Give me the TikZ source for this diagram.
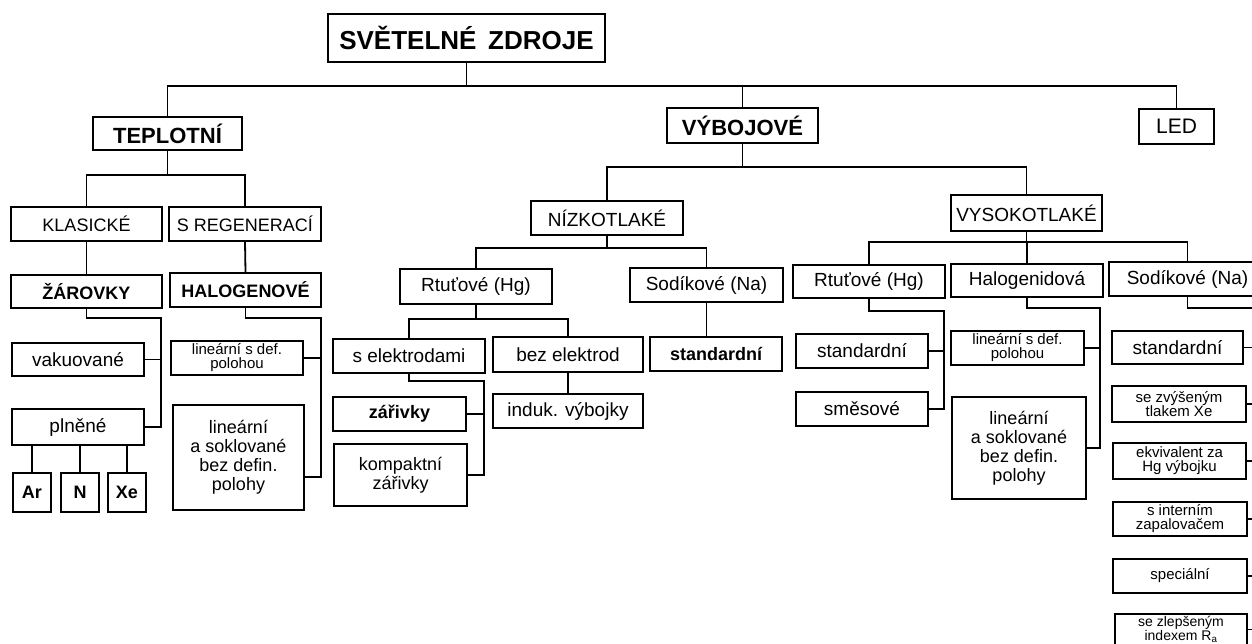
\documentclass[tikz,border=0pt]{standalone}
\usepackage{fontspec}
\setmainfont{Liberation Sans}
\usetikzlibrary{calc}
\newcommand\fsz[2]{\fontsize{#1}{#2}\selectfont}
% [opts]{name}{x1}{y1}{x2}{y2}{text}
\newcommand\bx[7][]{%
  \node[box,minimum width={(#5-#3)*1pt},minimum height={(#6-#4)*1pt},#1]
    (#2) at ({(#3+#5)/2},{(#4+#6)/2}) {#7};}
\begin{document}
\begin{tikzpicture}[x=1pt,y=-1pt,
  box/.style={draw,line width=1.8pt,inner sep=0pt,align=center,font=\fsz{19}{20}},
  conn/.style={line width=1.8pt},
  capstxt/.style={font=\fsz{18}{20}},
  bcapstxt/.style={font=\bfseries\fsz{18}{20}},
  headtxt/.style={font=\bfseries\fsz{22}{24}},
  smalltxt/.style={font=\fsz{15}{14}},
  multitxt/.style={font=\fsz{18}{19}}]
\useasboundingbox (0,0) rectangle (1252,644);
\clip (0,0) rectangle (1252,644);
\fill[white] (0,0) rectangle (1252,644);

% ---- level 0/1
\bx[font=\bfseries\fsz{26}{28},line width=2.6pt]{sz}{328}{14}{605}{62}{SVĚTELNÉ\hspace{0.45em}ZDROJE}
\bx[headtxt]{tep}{93}{117}{242}{150}{TEPLOTNÍ}
\bx[headtxt]{vyb}{667}{108}{818}{143}{VÝBOJOVÉ}
\bx[font=\fsz{21}{22}]{led}{1139}{109}{1214}{144}{LED}

% ---- teplotní branch
\bx[capstxt]{kl}{11}{207}{162}{241}{KLASICKÉ}
\bx[capstxt]{sreg}{169}{207}{321}{241}{S REGENERACÍ}
\bx[bcapstxt]{zarov}{11}{275}{162}{308}{ŽÁROVKY}
\bx[bcapstxt]{halo}{170}{273}{321}{307}{HALOGENOVÉ}
\bx{vak}{12}{343}{144}{376}{vakuované}
\bx{pln}{12}{409}{144}{445}{plněné}
\bx[bcapstxt]{ar}{13}{473}{51}{512}{Ar}
\bx[bcapstxt]{nn}{61}{473}{99}{512}{N}
\bx[bcapstxt]{xe}{108}{473}{146}{512}{Xe}
\bx[smalltxt]{lin1}{171}{341}{303}{375}{lineární s def.\\polohou}
\bx[multitxt]{lin2}{173}{405}{304}{510}{lineární\\a soklované\\bez defin.\\polohy}

% ---- výbojové branch
\bx{nizk}{531}{201}{683}{235}{NÍZKOTLAKÉ}
\bx{vys}{951}{195}{1102}{231}{VYSOKOTLAKÉ}
\bx{rn}{400}{269}{552}{304}{Rtuťové (Hg)}
\bx{sn}{630}{268}{783}{302}{Sodíkové (Na)}
\bx{sel}{333}{339}{485}{373}{s elektrodami}
\bx{bel}{493}{337}{643}{372}{bez elektrod}
\bx[font=\bfseries\fsz{18}{20}]{stn}{650}{337}{782}{371}{standardní}
\bx{ind}{493}{394}{643}{428}{induk. výbojky}
\bx[font=\bfseries\fsz{18}{20}]{zar}{333}{397}{466}{431}{zářivky}
\bx[multitxt]{kom}{334}{444}{467}{506}{kompaktní\\zářivky}
\bx{rv}{793}{265}{945}{298}{Rtuťové (Hg)}
\bx{hg}{951}{264}{1103}{297}{Halogenidová}
\bx{sv}{1109}{262}{1266}{296}{Sodíkové (Na)}
\bx{stv}{796}{334}{928}{368}{standardní}
\bx{smes}{796}{392}{928}{426}{směsové}
\bx[smalltxt]{lin3}{951}{331}{1084}{365}{lineární s def.\\polohou}
\bx[multitxt]{lin4}{952}{397}{1086}{499}{lineární\\a soklované\\bez defin.\\polohy}
\bx{s1}{1112}{331}{1243}{364}{standardní}
\bx[smalltxt]{s2}{1112}{386}{1246}{422}{se zvýšeným\\tlakem Xe}
\bx[smalltxt]{s3}{1113}{443}{1246}{479}{ekvivalent za\\Hg výbojku}
\bx[smalltxt]{s4}{1113}{502}{1247}{536}{s interním\\zapalovačem}
\bx[smalltxt]{s5}{1113}{559}{1247}{593}{speciální}
\bx[font=\fsz{14}{12.5}]{s6}{1115}{614}{1247}{645}{se zlepšeným\\indexem R\textsubscript{a}}

% ---- bus levels and junctions
\coordinate (L1) at (0,86);
\coordinate (L2) at (0,175);
\coordinate (L4) at (0,167);
\coordinate (L5) at (0,248);
\coordinate (L6) at (0,319);
\coordinate (L7) at (0,242);
\coordinate (zb) at (161,318);
\coordinate (hb) at (321,318);
\coordinate (sb) at (484,381);
\coordinate (rb) at (944,311);
\coordinate (hgb) at (1100,308);
\coordinate (sb2) at (1260,308);
\coordinate (lin2c) at ($(lin2.south east)+(0,-34)$);

% ---- connectors
\draw[conn] (sz.south) -- (sz.south |- L1);
\draw[conn] (tep.north) -- (tep.north |- L1) -- (led.north |- L1) -- (led.north);
\draw[conn] (vyb.north) -- (vyb.north |- L1);

\draw[conn] (tep.south) -- (tep.south |- L2);
\draw[conn] (kl.north) -- (kl.north |- L2) -- (sreg.north |- L2) -- (sreg.north);
\draw[conn] (kl.south) -- (zarov.north);
\draw[conn] (sreg.south) -- (halo.north);
\draw[conn] (zarov.south) |- (zb) |- (pln.east);
\draw[conn] (vak.east) -- (vak.east -| zb);
\draw[conn] (ar.north) -- (ar.north |- pln.south);
\draw[conn] (nn.north) -- (nn.north |- pln.south);
\draw[conn] (xe.north) -- (xe.north |- pln.south);
\draw[conn] (halo.south) |- (hb) |- (lin2c);
\draw[conn] (lin1.east) -- (lin1.east -| hb);

\draw[conn] (vyb.south) -- (vyb.south |- L4);
\draw[conn] (nizk.north) -- (nizk.north |- L4) -- (vys.north |- L4) -- (vys.north);

\draw[conn] (nizk.south) -- (nizk.south |- L5);
\draw[conn] (rn.north) -- (rn.north |- L5) -- (sn.north |- L5) -- (sn.north);
\draw[conn] (sn.south) -- (sn.south |- stn.north);
\draw[conn] (rn.south) -- (rn.south |- L6);
\draw[conn] (sel.north) -- (sel.north |- L6) -- (bel.north |- L6) -- (bel.north);
\draw[conn] (bel.south) -- (bel.south |- ind.north);
\draw[conn] (sel.south) |- (sb) |- (kom.east);
\draw[conn] (zar.east) -- (zar.east -| sb);

\draw[conn] (vys.south) -- (vys.south |- L7);
\draw[conn] (rv.north) -- (rv.north |- L7) -- (sv.north |- L7) -- (sv.north);
\draw[conn] (hg.north) -- (hg.north |- L7);
\draw[conn] (rv.south) |- (rb) |- (smes.east);
\draw[conn] (stv.east) -- (stv.east -| rb);
\draw[conn] (hg.south) |- (hgb) |- (lin4.east);
\draw[conn] (lin3.east) -- (lin3.east -| hgb);
\draw[conn] (sv.south) |- (sb2) -- (sb2 |- s6.east);
\foreach \s in {s1,s2,s3,s4,s5,s6}
  \draw[conn] (\s.east) -- (\s.east -| sb2);
\end{tikzpicture}
\end{document}
